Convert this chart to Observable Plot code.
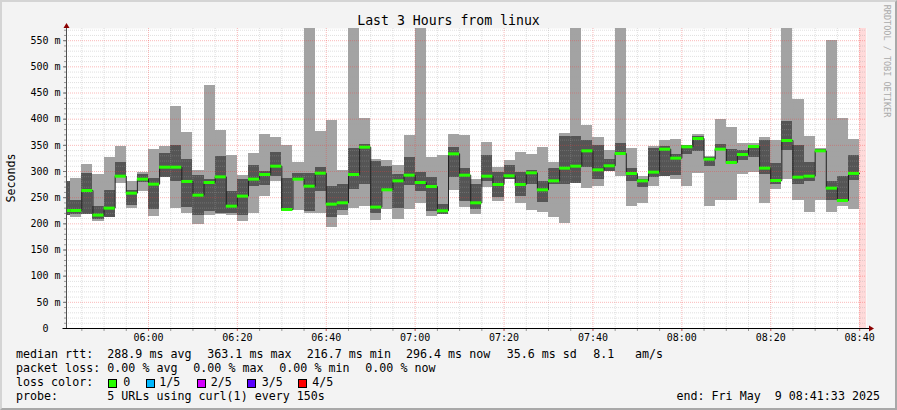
<!DOCTYPE html>
<html><head><meta charset="utf-8">
<script src="https://cdn.jsdelivr.net/npm/d3@7"></script>
<script src="https://cdn.jsdelivr.net/npm/@observablehq/plot@0.6"></script>
<style>
html,body{margin:0;padding:0;background:#f3f3f3;}
#wrap{position:relative;width:897px;height:410px;background:#f3f3f3;overflow:hidden;font-family:"DejaVu Sans Mono",monospace;}
#wrap svg{position:absolute;left:0;top:0;}
.t{position:absolute;white-space:pre;font-size:11.66px;line-height:14px;color:#000;}
.sw{position:absolute;width:7px;height:7px;border:1px solid #000;}
</style></head><body><div id="wrap"></div>
<script>
// ---- time frame ----
const startTime = new Date(2025, 4, 9, 5, 41, 33);
const endTime = new Date(2025, 4, 9, 8, 41, 33);
const firstBinEnd = new Date(2025, 4, 9, 5, 42, 30);
const lastDataTime = new Date(2025, 4, 9, 8, 40, 0);
const stepSeconds = 150;
const yMax = 573.3;

// ---- data (ms), one value per 150 s step ----
const lightTop = [280,286.7,313.4,294.3,327.4,347.8,281,298,342,347.8,424.3,374.6,302,465,378.4,330.6,292.4,334.4,370.7,365,349.7,317.2,600,376.5,397.5,302,600,401.3,323,321,311.5,368.8,600,326.8,330.6,370.7,368.8,284,355.5,307.7,321,336.3,332.5,345.9,317.2,372.7,600,388,365,340.2,600,344,290.5,347.8,359.3,361.2,349.7,370.7,328.7,399.4,384.1,353.5,353.5,365,359.3,600,437.6,367,344,550.4,401.3,361.2];
const darkTop = [280,244.6,296.2,233,263.7,317.2,263,294,286.7,334.4,349.7,323,292.4,284,328.7,261.8,284.7,311.5,300,336.3,286.7,296.2,296.2,307.7,271.4,275.2,344,351,319,309.6,294.3,326.8,298,288.6,237,346,305.8,275.2,330.6,298,311.5,298,302.6,281,305.8,367,367,359.3,349.7,323,353.5,305.8,284.7,344,347.8,332.5,349.7,367,326.8,351.6,342,340,350.4,359.3,315.3,395.6,349.7,317.2,342,281,290.5,330.6];
const median = [225.5,225.5,263.7,216.7,230,291.1,258.6,285.4,275.8,308.3,308.3,281,254.8,279,289.8,233.8,253,285.4,294.3,310.2,227.4,285.4,272,296.8,237.6,240.2,294.3,346.5,232,265,282.2,293,279,271.4,224.9,333.8,293,240.2,291.1,275.2,291.8,275.2,297.5,265,282.2,306.4,310.2,339.5,303.2,310.9,334.4,296.2,282.2,298.8,342.7,325.5,347.2,363.1,323.6,342.7,317.2,332.5,347.8,306.4,282.8,359.3,289.2,291.1,339.5,268.2,244.6,296.4];
const darkBottom = [216,218,218,209,212.8,289,235,279,228,289,281,232,215.3,223.6,219,219,216,272,274,291,223.6,283,223.6,261.8,212.8,225.5,265.6,275.2,220.4,263,228.7,273.3,261.8,223.6,217,289.2,242.7,228,281,251,285.4,253,275,240.8,275.8,275.2,277,307.7,284.7,300.7,330.6,281,270,288.6,291.1,293,332.5,338.9,309.6,341,313.4,321,326.8,294.3,275.2,340.2,275.8,281.6,337,244.6,241.4,282.8];
const lightBottom = [216,212.8,218,205,212.8,277.7,230,262.5,214.7,289,230,219,198,215.3,217,215.3,205,220.4,253,281,223.6,225.5,219,219,193.7,216.6,230,233.8,207,227.4,208.3,228,239.5,214.7,217,263.7,232,218.5,270,243.3,285.4,238,225.5,222.3,212.1,200,277,268.2,272,300.7,291.1,233.8,239.5,272,291.1,285.4,272,296.8,233.8,244.6,244.6,295,298,239.5,265.6,284,244.6,221.7,244.6,222.3,233,227.4];

// ---- ticks ----
const yTicks = [0,50,100,150,200,250,300,350,400,450,500,550];
const xTickLabels = ["06:00","06:20","06:40","07:00","07:20","07:40","08:00","08:20","08:40"];

// ---- legend texts ----
const medianStats = ["288.9 ms avg","363.1 ms max","216.7 ms min","296.4 ms now","35.6 ms sd","8.1","am/s"];
const lossStats = ["0.00 % avg","0.00 % max","0.00 % min","0.00 % now"];
const lossLabels = ["0","1/5","2/5","3/5","4/5"];
const lossColors = ["#26ff00","#00b8ff","#d400ff","#5a00ff","#ff0000"];

// ---- build tables ----
const rows = median.map((m, i) => {
  const x2 = new Date(+firstBinEnd + i * stepSeconds * 1000);
  const x1 = new Date(+x2 - stepSeconds * 1000);
  return {x1, x2, lt: lightTop[i], dt: darkTop[i], m, db: darkBottom[i], lb: lightBottom[i]};
});
const medianPath = rows.flatMap(r => [{x: r.x1, y: r.m}, {x: r.x2, y: r.m}]);
const parseHM = s => { const [h, mi] = s.split(":").map(Number); return new Date(2025, 4, 9, h, mi, 0); };
const majorX = xTickLabels.map(parseHM);
const minorX = d3.timeMinute.every(5).range(startTime, endTime);
const minorXOnly = minorX.filter(d => d.getMinutes() % 20 !== 0);
const minorYAll = d3.range(0, 571, 10);
const minorYOnly = minorYAll.filter(d => d % 50 !== 0);
const majorYGrid = yTicks.filter(d => d > 0);

const mono = "DejaVu Sans Mono";
const minorGrid = "rgba(165,165,165,0.34)";
const majorGrid = "rgba(240,60,60,0.36)";

const plot = Plot.plot({
  width: 897, height: 345,
  marginLeft: 66, marginRight: 31, marginTop: 28, marginBottom: 17,
  style: {background: "transparent", fontFamily: mono, fontSize: "10px", color: "#000", overflow: "visible"},
  x: {type: "time", domain: [startTime, endTime], axis: null},
  y: {domain: [0, yMax], axis: null},
  marks: [
    Plot.frame({fill: "white", stroke: null}),
    Plot.rectY(rows, {x1: "x1", x2: "x2", y1: "lb", y2: "lt", fill: "#a3a3a3", clip: true, shapeRendering: "crispEdges"}),
    Plot.rectY(rows, {x1: "x1", x2: "x2", y1: "db", y2: "dt", fill: "#555555", clip: true, shapeRendering: "crispEdges"}),
    Plot.rectY([{a: lastDataTime, b: endTime}], {x1: "a", x2: "b", y1: () => 0, y2: () => yMax, fill: "#ffdada", clip: true, shapeRendering: "crispEdges"}),
    Plot.ruleY(minorYOnly, {stroke: minorGrid, strokeDasharray: "1,1"}),
    Plot.ruleX(minorXOnly, {stroke: minorGrid, strokeDasharray: "1,1"}),
    Plot.ruleY(majorYGrid, {stroke: majorGrid, strokeDasharray: "1,1"}),
    Plot.ruleX(majorX, {stroke: majorGrid, strokeDasharray: "1,1"}),
    Plot.line(medianPath, {x: "x", y: "y", stroke: "#202020", strokeWidth: 1, clip: true}),
    Plot.ruleY(rows, {x1: "x1", x2: "x2", y: "m", stroke: "#26ff00", strokeWidth: 3, clip: true}),
    Plot.axisY({ticks: minorYAll, tickSize: 2, tickFormat: () => "", stroke: "#999", label: null}),
    Plot.axisY({ticks: yTicks, tickSize: 3, tickPadding: 3, tickFormat: d => d === 0 ? "0\u00a0\u00a0" : d + " m", stroke: "#777", fill: "#000", fontSize: 10, fontFamily: mono, label: null}),
    Plot.axisX({ticks: minorX, tickSize: 3, tickFormat: () => "", stroke: "#999", label: null}),
    Plot.axisX({ticks: majorX, tickSize: 3, tickPadding: 2, tickFormat: d3.timeFormat("%H:%M"), stroke: "#e07070", fill: "#000", fontSize: 10, fontFamily: mono, label: null})
  ]
});

const wrap = document.getElementById("wrap");
wrap.appendChild(plot);

// axis lines and arrows (decoration)
const sx = plot.scale("x"), sy = plot.scale("y");
const x0 = Math.round(sx.apply(startTime)) + 0.5;
const xe = sx.apply(endTime);
const y0 = Math.round(sy.apply(0)) + 0.5;
const yt = sy.apply(yMax);
const svg = d3.select(plot);
svg.append("line").attr("x1", x0).attr("x2", x0).attr("y1", y0).attr("y2", yt - 3).attr("stroke", "#505050");
svg.append("line").attr("x1", x0 - 4).attr("x2", xe + 4).attr("y1", y0).attr("y2", y0).attr("stroke", "#000");
svg.append("path").attr("d", `M${x0 - 3},${yt}L${x0 + 3},${yt}L${x0},${yt - 5}Z`).attr("fill", "#8b0000");
svg.append("path").attr("d", `M${xe + 3},${y0 - 3}L${xe + 3},${y0 + 3}L${xe + 8},${y0}Z`).attr("fill", "#8b0000");

// ---- HTML texts ----
function addText(txt, left, baseline, extra) {
  const d = document.createElement("div");
  d.className = "t";
  d.textContent = txt;
  d.style.left = left + "px";
  d.style.top = (baseline - 11) + "px";
  if (extra) Object.assign(d.style, extra);
  wrap.appendChild(d);
  return d;
}
const title = document.createElement("div");
Object.assign(title.style, {position: "absolute", left: "0px", width: "897px", top: "12.5px", textAlign: "center", fontSize: "13.2px", lineHeight: "16px", whiteSpace: "pre", color: "#000"});
title.textContent = "Last 3 Hours from linux";
wrap.appendChild(title);

const ylab = document.createElement("div");
Object.assign(ylab.style, {position: "absolute", left: "10.5px", top: "177.5px", transform: "translate(-50%,-50%) rotate(-90deg)", fontSize: "11.66px", lineHeight: "14px", whiteSpace: "pre", color: "#000"});
ylab.textContent = "Seconds";
wrap.appendChild(ylab);

const credit = document.createElement("div");
Object.assign(credit.style, {position: "absolute", left: "887px", top: "61px", transform: "translate(-50%,-50%) rotate(90deg)", fontSize: "8.5px", lineHeight: "10px", whiteSpace: "pre", color: "#aaaaaa"});
credit.textContent = "RRDTOOL / TOBI OETIKER";
wrap.appendChild(credit);

const b1 = 358.2, b2 = 372.2, b3 = 386.2, b4 = 400;
addText("median rtt:", 16, b1);
[107.3, 207.3, 306.7, 406, 506.7, 593.3, 635].forEach((x, i) => addText(medianStats[i], x, b1));
addText("packet loss:", 16, b2);
[107.3, 193.3, 279.3, 365.3].forEach((x, i) => addText(lossStats[i], x, b2));
addText("loss color:", 16, b3);
const swX = [108.3, 145.7, 196.7, 247.3, 297.7];
const lbX = [123.3, 159.3, 210.7, 261.7, 312.3];
lossLabels.forEach((l, i) => {
  const s = document.createElement("div");
  s.className = "sw";
  Object.assign(s.style, {left: swX[i] + "px", top: "378.5px", background: lossColors[i]});
  wrap.appendChild(s);
  addText(l, lbX[i], b3);
});
addText("probe:", 16, b4);
addText("5 URLs using curl(1) every 150s", 107.3, b4);
addText("end: Fri May  9 08:41:33 2025", 0, b4, {left: "auto", right: (897 - 880) + "px"});

// frame border
const fr = document.createElement("div");
Object.assign(fr.style, {position: "absolute", left: "0", top: "0", width: "897px", height: "410px", boxSizing: "border-box", borderTop: "2px solid #d4d4d4", borderLeft: "2px solid #d4d4d4", borderRight: "2px solid #a8a8a8", borderBottom: "2px solid #a8a8a8", pointerEvents: "none"});
wrap.appendChild(fr);
</script></body></html>
